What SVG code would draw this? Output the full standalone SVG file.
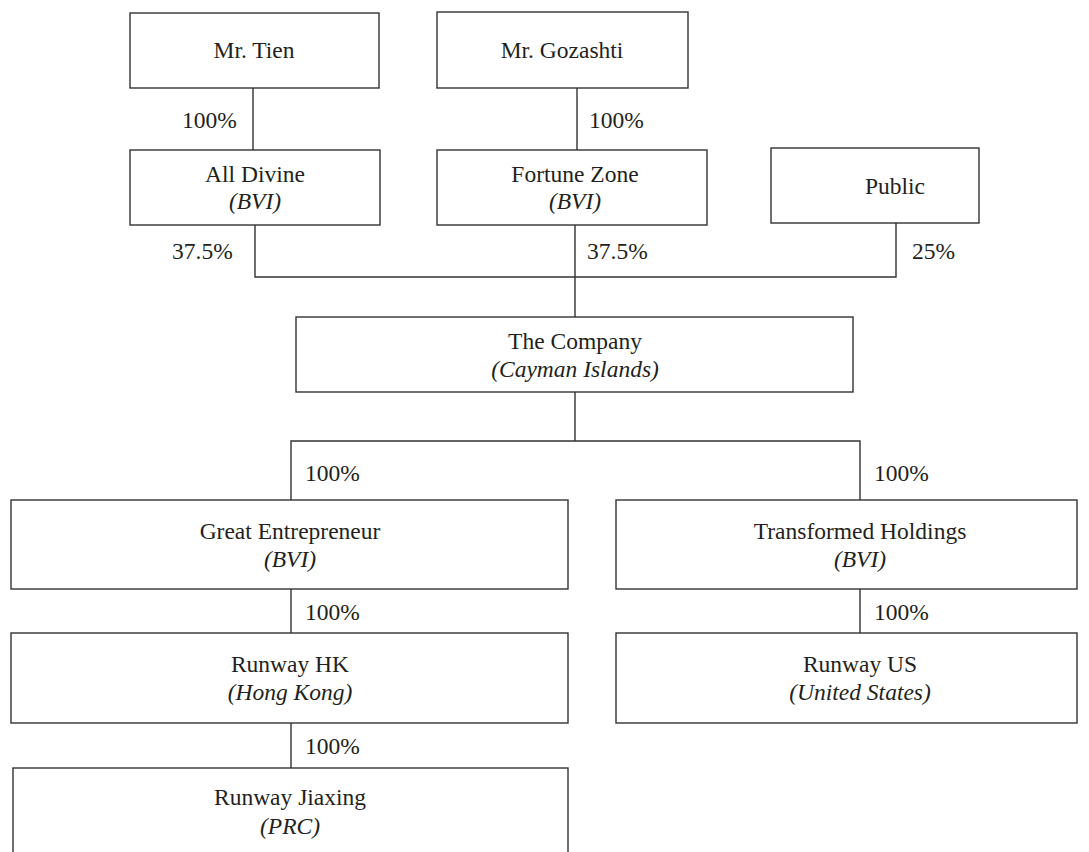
<svg xmlns="http://www.w3.org/2000/svg" width="1089" height="852" viewBox="0 0 1089 852">
<style>
.box{fill:#fff;stroke:#333;stroke-width:1.4}
.ln{stroke:#333;stroke-width:1.4;fill:none}
text{font-family:"Liberation Serif","Times New Roman",serif;font-size:23.5px;fill:#231f20}
.c{text-anchor:middle}
.i{font-style:italic}
</style>
<rect width="1089" height="852" fill="#fff"/>
<g id="connectors">
<path class="ln" d="M253 88V150M577 88V150M255 225V277H896V223M575 225V317M575 392V441M291 500V441H860V500M291 589V633M291 723V768M860 589V633"/>
<text x="182" y="128">100%</text>
<text x="589" y="128">100%</text>
<text x="172" y="259">37.5%</text>
<text x="587" y="259">37.5%</text>
<text x="912" y="259">25%</text>
<text x="305" y="481">100%</text>
<text x="874" y="481">100%</text>
<text x="305" y="620">100%</text>
<text x="874" y="620">100%</text>
<text x="305" y="754">100%</text>
</g>
<g id="mr-tien"><rect class="box" x="130" y="13" width="249" height="75"/><text class="c" x="254" y="58">Mr. Tien</text></g>
<g id="mr-gozashti"><rect class="box" x="437" y="12" width="251" height="76"/><text class="c" x="562" y="58">Mr. Gozashti</text></g>
<g id="all-divine"><rect class="box" x="130" y="150" width="250" height="75"/><text class="c" x="255" y="182">All Divine</text><text class="c i" x="255" y="209">(BVI)</text></g>
<g id="fortune-zone"><rect class="box" x="437" y="150" width="270" height="75"/><text class="c" x="575" y="182">Fortune Zone</text><text class="c i" x="575" y="209">(BVI)</text></g>
<g id="public"><rect class="box" x="771" y="148" width="208" height="75"/><text class="c" x="895" y="194">Public</text></g>
<g id="company"><rect class="box" x="296" y="317" width="557" height="75"/><text class="c" x="575" y="349">The Company</text><text class="c i" x="575" y="377">(Cayman Islands)</text></g>
<g id="great-entrepreneur"><rect class="box" x="11" y="500" width="557" height="89"/><text class="c" x="290" y="539">Great Entrepreneur</text><text class="c i" x="290" y="567">(BVI)</text></g>
<g id="transformed-holdings"><rect class="box" x="616" y="500" width="461" height="89"/><text class="c" x="860" y="539">Transformed Holdings</text><text class="c i" x="860" y="567">(BVI)</text></g>
<g id="runway-hk"><rect class="box" x="11" y="633" width="557" height="90"/><text class="c" x="290" y="672">Runway HK</text><text class="c i" x="290" y="700">(Hong Kong)</text></g>
<g id="runway-us"><rect class="box" x="616" y="633" width="461" height="90"/><text class="c" x="860" y="672">Runway US</text><text class="c i" x="860" y="700">(United States)</text></g>
<g id="runway-jiaxing"><rect class="box" x="13" y="768" width="555" height="100"/><text class="c" x="290" y="805">Runway Jiaxing</text><text class="c i" x="290" y="834">(PRC)</text></g>
</svg>
